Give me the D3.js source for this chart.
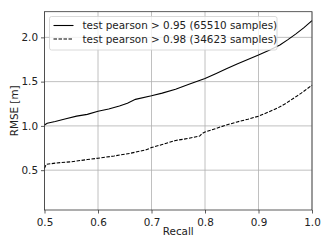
<!DOCTYPE html>
<html><head><meta charset="utf-8">
<script src="https://cdn.jsdelivr.net/npm/d3@7"></script>
<style>body{margin:0;background:#fff}svg{display:block}text{font-family:"DejaVu Sans",sans-serif}</style>
</head><body>
<svg id="c" width="332" height="249"></svg>
<script>
const recallA = [0.50,0.505,0.52,0.54,0.56,0.58,0.60,0.62,0.64,0.655,0.67,0.70,0.72,0.745,0.77,0.80,0.82,0.84,0.86,0.88,0.90,0.92,0.94,0.955,0.97,0.985,1.00];
const rmseA   = [1.01,1.03,1.05,1.08,1.11,1.13,1.165,1.19,1.225,1.255,1.30,1.34,1.37,1.415,1.47,1.535,1.59,1.645,1.70,1.75,1.80,1.855,1.915,1.975,2.04,2.11,2.19];
const recallB = [0.50,0.503,0.52,0.55,0.58,0.60,0.63,0.66,0.69,0.70,0.72,0.745,0.77,0.79,0.795,0.80,0.82,0.84,0.86,0.88,0.90,0.92,0.935,0.95,0.965,0.98,1.00];
const rmseB   = [0.52,0.565,0.58,0.595,0.62,0.635,0.66,0.69,0.73,0.755,0.79,0.835,0.86,0.885,0.915,0.93,0.97,1.01,1.045,1.075,1.11,1.16,1.20,1.25,1.31,1.37,1.46];
const xTicks = [0.5,0.6,0.7,0.8,0.9,1.0];
const yTicks = [0.5,1.0,1.5,2.0];
const seriesNames = ["test pearson > 0.95 (65510 samples)","test pearson > 0.98 (34623 samples)"];

const FS = 10.4;
const svg = d3.select("#c");
const L=44.5,R=312,T=11.7,B=210;
const x = d3.scaleLinear().domain([0.5,1.0]).range([L,R]);
const y = d3.scaleLinear().domain([0.05,2.29]).range([B,T]);

const g = svg.append("g");
g.selectAll(".gx").data(xTicks).join("line").attr("x1",d=>x(d)).attr("x2",d=>x(d)).attr("y1",T).attr("y2",B).attr("stroke","#b0b0b0").attr("stroke-width",0.8);
g.selectAll(".gy").data(yTicks).join("line").attr("y1",d=>y(d)).attr("y2",d=>y(d)).attr("x1",L).attr("x2",R).attr("stroke","#b0b0b0").attr("stroke-width",0.8);

const line = d3.line().x(d=>x(d[0])).y(d=>y(d[1]));
g.append("path").datum(recallA.map((r,i)=>[r,rmseA[i]])).attr("d",line).attr("fill","none").attr("stroke","#000").attr("stroke-width",1.1);
g.append("path").datum(recallB.map((r,i)=>[r,rmseB[i]])).attr("d",line).attr("fill","none").attr("stroke","#000").attr("stroke-width",1.1).attr("stroke-dasharray","3.5,1.5");

const xa = svg.append("g").attr("transform",`translate(0,${B})`).call(d3.axisBottom(x).tickValues(xTicks).tickFormat(d3.format(".1f")).tickSize(3.5).tickSizeOuter(0));
const ya = svg.append("g").attr("transform",`translate(${L},0)`).call(d3.axisLeft(y).tickValues(yTicks).tickFormat(d3.format(".1f")).tickSize(3.5).tickSizeOuter(0));
[xa,ya].forEach(a=>{a.select(".domain").remove();a.selectAll("text").attr("font-size",FS).attr("fill","#222").attr("font-family","DejaVu Sans");a.selectAll("line").attr("stroke","#333").attr("stroke-width",0.8);});
xa.selectAll("text").attr("dy","0.9em");
svg.append("rect").attr("x",L).attr("y",T).attr("width",R-L).attr("height",B-T).attr("fill","none").attr("stroke","#333").attr("stroke-width",0.8);

svg.append("text").attr("x",(L+R)/2).attr("y",234.5).attr("text-anchor","middle").attr("font-size",FS).attr("fill","#222").text("Recall");
svg.append("text").attr("transform",`translate(18,${(T+B)/2}) rotate(-90)`).attr("text-anchor","middle").attr("font-size",FS).attr("fill","#222").text("RMSE [m]");

const lg = svg.append("g");
lg.append("rect").attr("x",49.5).attr("y",16.5).attr("width",227.5).attr("height",33.5).attr("rx",2).attr("fill","#fff").attr("fill-opacity",0.8).attr("stroke","#d0d0d0").attr("stroke-width",0.8);
const rowsY=[25.5,39];
seriesNames.forEach((n,i)=>{
  lg.append("line").attr("x1",53.5).attr("x2",73.5).attr("y1",rowsY[i]).attr("y2",rowsY[i]).attr("stroke","#000").attr("stroke-width",1.1).attr("stroke-dasharray",i? "3.5,1.5":null);
  lg.append("text").attr("x",82.5).attr("y",rowsY[i]).attr("dy","0.35em").attr("font-size",FS).attr("fill","#222").text(n);
});
</script>
</body></html>
